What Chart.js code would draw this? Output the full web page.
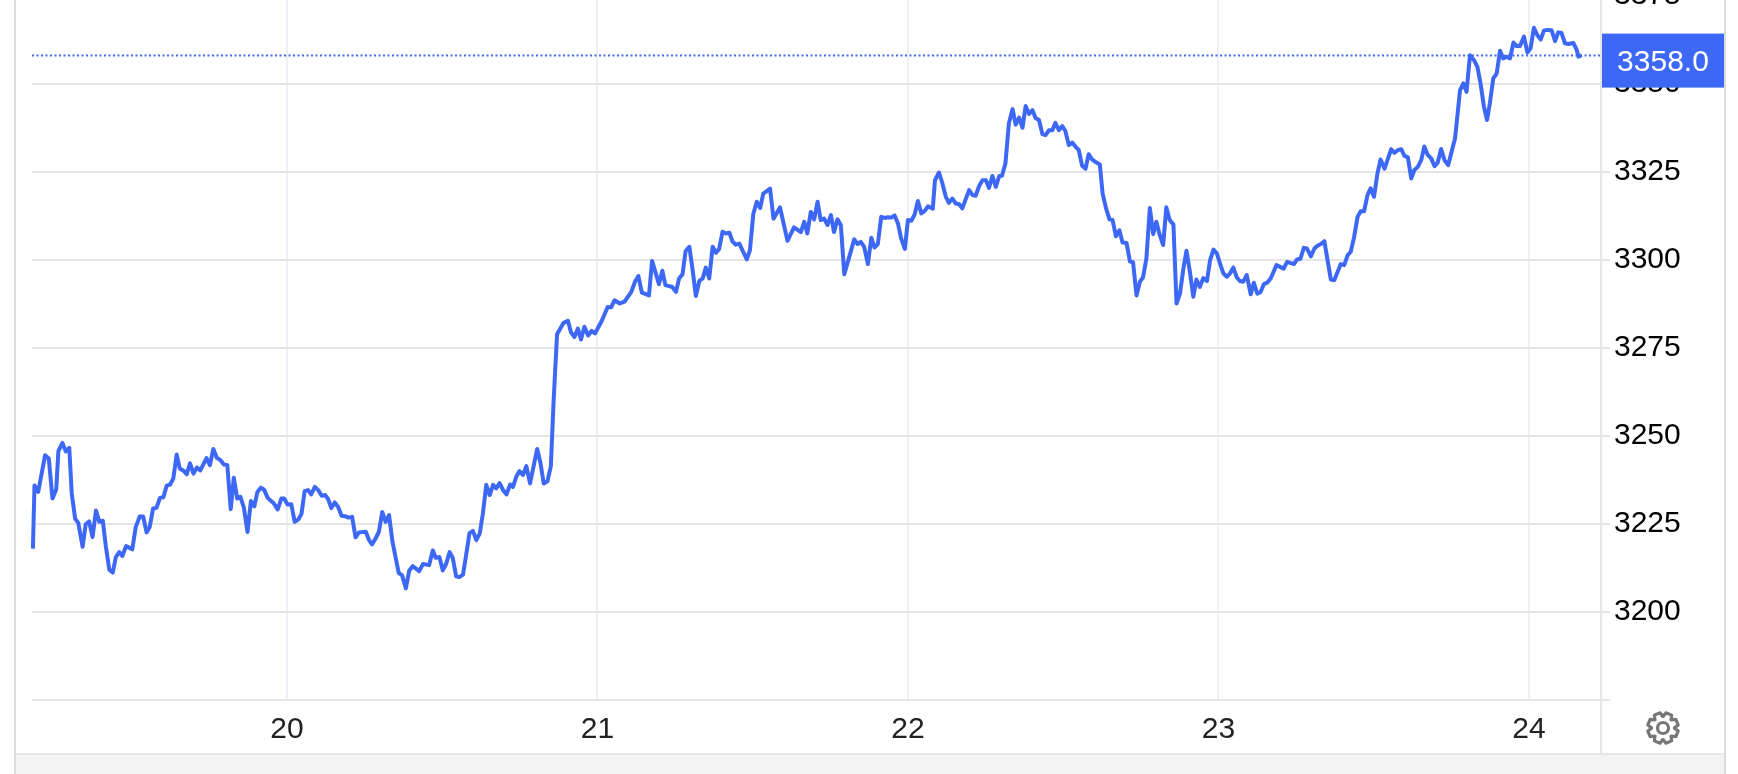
<!DOCTYPE html>
<html>
<head>
<meta charset="utf-8">
<title>Price chart</title>
<script src="https://cdn.jsdelivr.net/npm/chart.js@4"></script>
<style>
html,body{margin:0;padding:0;background:#fff;overflow:hidden}
#wrap{position:relative;width:1738px;height:774px;overflow:hidden}
#chartBox{position:absolute;left:0;top:-43px;width:1738px;height:817px}
.frameL{position:absolute;left:14px;top:0;width:2px;height:774px;background:#dcdcdc}
.frameR{position:absolute;left:1724px;top:0;width:2px;height:774px;background:#dcdcdc}
.sep{position:absolute;left:1600px;top:0;width:2px;height:753px;background:#e6e6e6}
.band{position:absolute;left:16px;top:753px;width:1708px;height:21px;background:#f3f3f3;border-top:2px solid #e6e6e6;box-sizing:border-box}
</style>
</head>
<body>
<div id="wrap">
<div class="sep"></div>
<div class="band"></div>
<div class="frameL"></div>
<div class="frameR"></div>
<div id="chartBox"><canvas id="priceChart" width="1738" height="817"></canvas></div>
</div>
<script>
/* ---------------- DATA ---------------- */

const days = [
19.182,19.187,19.199,19.209,19.221,19.233,19.245,19.257,19.264,19.277,19.288,19.299,19.307,19.318,19.328,19.342,19.352,19.363,19.374,19.385,19.396,19.407,19.417,19.428,19.439,19.449,19.460,19.470,19.482,19.502,19.513,19.526,19.537,19.548,19.558,19.569,19.580,19.591,19.602,19.613,19.624,19.634,19.645,19.655,19.666,19.677,19.688,19.699,19.710,19.721,19.741,19.752,19.763,19.774,19.786,19.797,19.808,19.819,19.829,19.840,19.850,19.861,19.873,19.884,19.895,19.905,19.916,19.926,19.938,19.958,19.970,19.982,19.991,
20.002,20.014,20.025,20.037,20.047,20.057,20.068,20.078,20.090,20.101,20.112,20.123,20.133,20.143,20.154,20.165,20.176,20.187,20.198,20.210,20.221,20.232,20.254,20.264,20.274,20.285,20.296,20.307,20.318,20.329,20.340,20.360,20.371,20.383,20.394,20.405,20.426,20.438,20.458,20.470,20.479,20.491,20.502,20.513,20.524,20.534,20.545,20.555,20.567,20.577,20.588,20.599,20.610,20.621,20.631,20.642,20.653,20.664,20.674,20.685,20.696,20.707,20.719,20.728,20.739,20.749,20.760,20.771,20.783,20.806,20.817,20.827,20.839,20.850,20.859,20.870,20.891,20.905,20.915,20.926,20.937,20.947,20.958,20.970,20.981,20.992,
21.013,21.033,21.044,21.055,21.072,21.087,21.109,21.122,21.132,21.143,21.166,21.176,21.198,21.209,21.219,21.241,21.253,21.263,21.274,21.284,21.296,21.306,21.317,21.328,21.339,21.349,21.360,21.371,21.382,21.392,21.403,21.414,21.425,21.435,21.446,21.457,21.481,21.491,21.502,21.513,21.524,21.534,21.556,21.567,21.588,21.612,21.633,21.655,21.666,21.676,21.687,21.698,21.709,21.719,21.730,21.741,21.752,21.762,21.773,21.784,21.795,21.805,21.827,21.838,21.848,21.859,21.871,21.882,21.892,21.903,21.914,21.925,21.935,21.946,21.957,21.968,21.978,21.990,
22.000,22.011,22.022,22.032,22.043,22.054,22.065,22.080,22.087,22.100,22.111,22.122,22.132,22.143,22.154,22.165,22.175,22.197,22.208,22.218,22.229,22.240,22.251,22.261,22.272,22.283,22.294,22.303,22.314,22.325,22.337,22.347,22.358,22.369,22.379,22.390,22.401,22.411,22.422,22.433,22.443,22.454,22.465,22.475,22.486,22.497,22.507,22.518,22.529,22.540,22.550,22.561,22.572,22.582,22.593,22.604,22.618,22.627,22.638,22.649,22.659,22.670,22.681,22.691,22.704,22.715,22.725,22.736,22.747,22.757,22.768,22.779,22.790,22.800,22.811,22.822,22.832,22.843,22.855,22.865,22.876,22.887,22.897,22.908,22.919,22.929,22.940,22.951,22.963,22.973,22.984,22.995,
23.005,23.016,23.027,23.037,23.048,23.059,23.069,23.080,23.091,23.104,23.114,23.125,23.136,23.146,23.157,23.168,23.187,23.210,23.221,23.243,23.253,23.264,23.275,23.285,23.298,23.309,23.319,23.330,23.341,23.362,23.373,23.384,23.394,23.405,23.416,23.426,23.437,23.448,23.458,23.469,23.480,23.490,23.501,23.512,23.522,23.535,23.556,23.567,23.578,23.589,23.599,23.610,23.621,23.631,23.642,23.653,23.663,23.674,23.685,23.696,23.706,23.717,23.728,23.740,23.762,23.778,23.789,23.799,23.810,23.823,23.834,23.844,23.855,23.865,23.874,23.885,23.896,23.907,23.917,23.928,23.939,23.950,23.960,23.971,23.984,23.995,
24.005,24.016,24.027,24.038,24.048,24.059,24.073,24.084,24.094,24.105,24.116,24.127,24.143,24.154,24.159,24.170
]

const prices = [
3218.0,3235.9,3234.1,3238.8,3244.5,3243.6,3232.2,3234.8,3245.7,3248.0,3245.6,3246.6,3233.6,3226.5,3225.3,3218.5,3224.9,3225.7,3221.3,3228.8,3225.6,3225.9,3218.5,3212.0,3211.2,3215.6,3217.0,3215.9,3218.7,3217.8,3224.1,3227.1,3227.1,3222.6,3224.1,3229.4,3229.6,3232.4,3232.6,3235.9,3236.2,3237.9,3244.7,3240.7,3240.2,3239.1,3242.2,3239.3,3241.0,3240.2,3243.7,3241.7,3246.3,3243.8,3243.1,3241.9,3241.7,3229.2,3238.1,3232.2,3232.7,3229.8,3222.7,3231.5,3230.0,3234.1,3235.3,3234.8,3232.4,3230.8,3229.1,3232.2,3232.2,
3230.5,3230.6,3225.6,3226.3,3227.9,3234.3,3234.6,3233.4,3235.5,3234.6,3233.0,3233.2,3232.0,3229.5,3231.1,3229.8,3227.3,3227.2,3226.8,3227.0,3221.2,3222.6,3222.8,3220.5,3219.2,3220.8,3222.7,3228.4,3225.6,3227.5,3219.9,3211.1,3210.4,3206.7,3211.8,3213.0,3211.6,3213.6,3213.3,3217.5,3215.4,3215.6,3211.8,3213.7,3217.0,3215.4,3210.1,3209.9,3210.6,3216.1,3222.4,3223.0,3220.4,3222.3,3227.9,3236.1,3233.2,3236.1,3235.1,3236.6,3234.6,3233.4,3236.2,3235.5,3238.5,3240.0,3238.9,3241.4,3236.5,3246.3,3242.1,3236.5,3237.1,3241.4,3260.2,3278.9,3282.1,3282.7,3279.4,3278.1,3280.5,3277.4,3281.0,3278.5,3279.8,3279.1,
3282.5,3286.6,3286.5,3288.5,3287.6,3288.1,3290.9,3294.0,3295.4,3290.7,3289.9,3299.7,3293.1,3296.9,3292.8,3292.3,3290.9,3294.7,3295.9,3302.5,3303.7,3297.5,3289.7,3294.0,3294.7,3297.8,3294.7,3303.7,3302.0,3303.1,3308.0,3307.5,3307.7,3305.2,3304.3,3304.6,3300.1,3302.7,3313.0,3316.5,3314.7,3318.8,3320.2,3311.7,3314.9,3305.4,3309.2,3307.9,3310.8,3307.5,3313.6,3311.5,3316.5,3311.3,3311.7,3309.9,3312.7,3307.9,3311.5,3309.8,3295.9,3299.0,3305.8,3304.5,3305.1,3303.7,3298.8,3306.3,3303.5,3304.5,3312.2,3311.9,3312.1,3312.0,3312.6,3310.3,3306.1,3303.1,
3311.3,3311.1,3313.0,3316.7,3313.2,3313.9,3315.2,3314.5,3322.6,3324.8,3321.7,3317.9,3316.2,3317.4,3316.0,3315.8,3314.6,3319.8,3318.4,3318.2,3320.9,3322.6,3322.6,3320.4,3323.8,3320.7,3323.8,3323.9,3327.4,3338.7,3342.8,3338.4,3340.4,3337.5,3343.7,3341.4,3342.5,3340.3,3339.7,3335.7,3335.4,3336.8,3336.8,3338.9,3336.8,3338.0,3336.6,3332.6,3333.3,3332.1,3331.2,3326.7,3325.9,3330.0,3328.5,3327.8,3327.1,3318.8,3314.6,3311.5,3311.3,3306.7,3308.4,3304.9,3304.8,3299.5,3299.3,3289.9,3293.8,3295.0,3300.4,3314.7,3307.3,3310.8,3307.0,3304.2,3314.9,3311.3,3310.0,3287.6,3290.4,3297.5,3302.6,3296.6,3289.5,3294.4,3292.3,3294.8,3294.0,3299.9,3302.9,3301.8,
3299.0,3296.1,3295.2,3296.1,3297.8,3295.0,3294.0,3293.8,3295.7,3290.2,3293.5,3290.4,3290.9,3293.1,3293.5,3294.7,3298.5,3297.5,3299.4,3298.8,3300.1,3300.3,3303.4,3303.2,3301.0,3303.2,3304.0,3304.5,3305.3,3294.4,3294.2,3296.6,3298.8,3298.5,3301.3,3302.3,3306.5,3312.2,3313.8,3313.8,3318.4,3320.3,3317.9,3324.5,3328.5,3325.9,3331.4,3330.4,3331.2,3331.4,3329.5,3329.1,3323.1,3325.5,3326.4,3328.3,3332.2,3329.8,3328.8,3326.6,3327.6,3331.5,3328.3,3326.9,3334.5,3348.2,3350.1,3347.7,3358.1,3356.7,3354.8,3350.1,3343.5,3339.7,3344.4,3351.5,3352.9,3359.4,3357.2,3357.7,3357.2,3361.7,3360.7,3360.7,3363.4,3358.9,
3360.0,3365.9,3363.8,3362.6,3365.1,3365.3,3365.2,3362.1,3364.6,3364.4,3361.5,3361.3,3361.6,3359.6,3357.7,3358.1
]

const lastPrice = 3358.0
const xMin = 19.179
const xMax = 24.232
const yMin = 3175
const yMax = 3386

const lineBlue = "#3d67f5"

/* ---------------- PRICE TAG + GEAR ---------------- */

const priceTag = {
id:"priceTag",
afterDraw(chart){

const c = chart.ctx
const y = chart.scales.y.getPixelForValue(lastPrice)

c.save()
c.fillStyle = lineBlue
c.fillRect(1602,y-22,122,54)
c.fillStyle = "#fff"
c.font = "30px 'Liberation Sans'"
c.textAlign = "center"
c.textBaseline = "middle"
c.fillText(lastPrice.toFixed(1),1663,y+7)
c.restore()

/* settings icon, 8 teeth */
const cx = 1663, cy = 771, r1 = 11.5, r2 = 15.5

c.save()
c.strokeStyle = "#777"
c.lineWidth = 3.2
c.lineJoin = "round"
c.beginPath()
for(let i=0;i<8;i++){
const a = i*Math.PI/4 + Math.PI/8
const pts = [[a-0.38,r1],[a-0.2,r2],[a+0.2,r2],[a+0.38,r1]]
pts.forEach(p=>{
c.lineTo(cx+Math.cos(p[0])*p[1],cy+Math.sin(p[0])*p[1])
})
}
c.closePath()
c.stroke()
c.beginPath()
c.arc(cx,cy,5.5,0,Math.PI*2)
c.stroke()
c.restore()

}
}

/* ---------------- CHART ---------------- */

const ctx = document.getElementById("priceChart").getContext("2d")

new Chart(ctx,{
type:"line",
data:{
datasets:[
{
data:days.map((d,i)=>({x:d,y:prices[i]})),
borderColor:lineBlue,
borderWidth:4,
pointRadius:0,
tension:0,
borderJoinStyle:"round",
clip:false
},
{
data:[{x:xMin,y:lastPrice},{x:xMax,y:lastPrice}],
borderColor:lineBlue,
borderWidth:2,
borderDash:[2,2.5],
pointRadius:0
}
]
},
options:{
responsive:false,
animation:false,
layout:{padding:{left:32,right:0,top:0,bottom:0}},
plugins:{
legend:{display:false},
tooltip:{enabled:false}
},
scales:{
x:{
type:"linear",
min:xMin,
max:xMax,
afterFit(s){s.height = 74;s.paddingLeft = 0;s.paddingRight = 0},
border:{display:false},
grid:{color:"#edf1f5",lineWidth:2,drawTicks:false},
ticks:{
stepSize:1,
includeBounds:false,
autoSkip:false,
maxRotation:0,
padding:12,
color:"#222",
font:{family:"'Liberation Sans'",size:30},
callback:v=>String(v)
}
},
y:{
position:"right",
min:yMin,
max:yMax,
afterFit(s){s.width = 137;s.paddingTop = 0;s.paddingBottom = 0},
border:{display:false},
grid:{color:"#e6e6e6",lineWidth:2,tickLength:9},
ticks:{
stepSize:25,
includeBounds:false,
autoSkip:false,
padding:4,
color:"#000",
font:{family:"'Liberation Sans'",size:30},
callback:v=>v===yMin?"":String(v)
}
}
}
},
plugins:[priceTag]
})
</script>
</body>
</html>
